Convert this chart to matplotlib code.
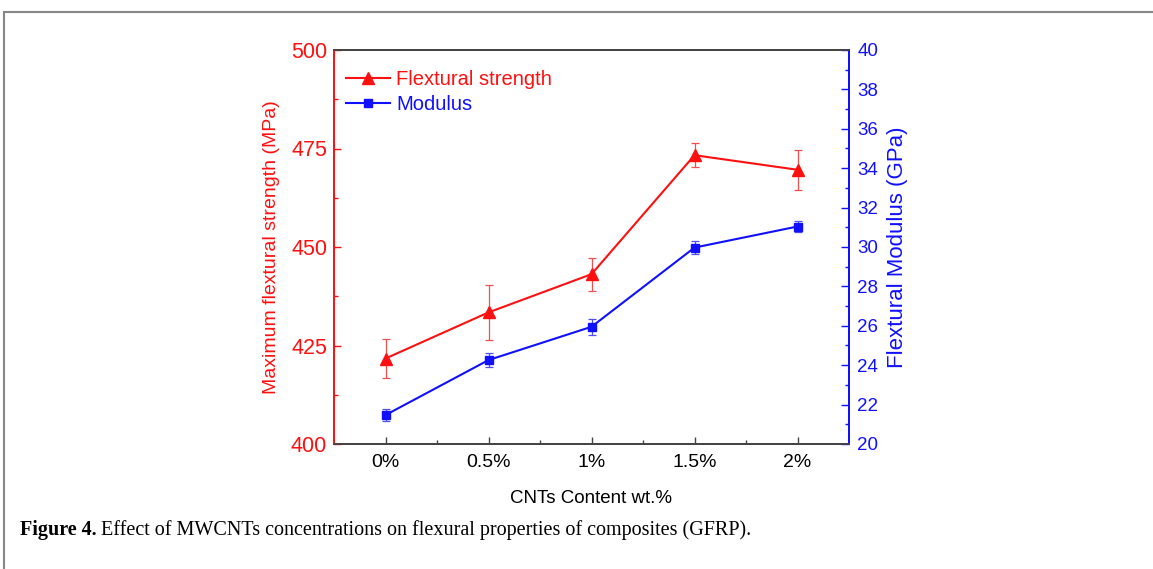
import matplotlib
matplotlib.use("Agg")
import matplotlib.pyplot as plt
from matplotlib.ticker import MultipleLocator, FixedLocator
from matplotlib.lines import Line2D

categories = ["0%", "0.5%", "1%", "1.5%", "2%"]
strength = [421.7, 433.4, 443.1, 473.3, 469.6]
strength_err = [5.0, 7.0, 4.2, 3.0, 5.1]
modulus = [21.47, 24.26, 25.95, 29.97, 31.04]
modulus_err = [0.29, 0.34, 0.41, 0.33, 0.27]

plt.rcParams['font.family'] = ['Liberation Sans', 'DejaVu Sans']

W, H = 1153, 569
fig = plt.figure(figsize=(W / 100, H / 100), dpi=100)
ax = fig.add_axes([334 / W, 1 - 444 / H, (849 - 334) / W, (444 - 50) / H])
ax2 = ax.twinx()

x = list(range(len(categories)))
red = '#ff1010'
blue = '#1010ff'

ax.errorbar(x, strength, yerr=strength_err, color=red, marker='^', markersize=8,
            linewidth=1.5, elinewidth=0.9, capsize=3, capthick=0.9, ecolor='#f05050', zorder=3)
ax2.errorbar(x, modulus, yerr=modulus_err, color=blue, marker='s', markersize=6,
             linewidth=1.5, elinewidth=0.9, capsize=3, capthick=0.9, ecolor='#5050f0', zorder=3)

ax.set_xlim(-0.5, 4.5)
ax.set_ylim(400, 500)
ax2.set_ylim(20, 40)

ax.set_xticks(x)
ax.set_xticklabels(categories)
ax.xaxis.set_minor_locator(FixedLocator([0.5, 1.5, 2.5, 3.5]))
ax.yaxis.set_major_locator(MultipleLocator(25))
ax.yaxis.set_minor_locator(MultipleLocator(12.5))
ax2.yaxis.set_major_locator(MultipleLocator(2))
ax2.yaxis.set_minor_locator(MultipleLocator(1))

ax.tick_params(axis='y', which='both', colors=red, labelsize=15.5, direction='in', pad=5)
ax.tick_params(axis='y', which='major', length=5, width=1)
ax.tick_params(axis='y', which='minor', length=3, width=1)
ax.tick_params(axis='x', which='major', length=5, width=1, color='#444444', labelsize=14,
               direction='in', pad=7)
ax.tick_params(axis='x', which='minor', length=3, width=1, color='#444444', direction='in')
ax2.tick_params(axis='y', which='both', colors=blue, labelsize=13.5, direction='in', pad=6)
ax2.tick_params(axis='y', which='major', length=6, width=1)
ax2.tick_params(axis='y', which='minor', length=3, width=1)

for a in (ax, ax2):
    a.spines['left'].set_color(red)
    a.spines['right'].set_color(blue)
    a.spines['top'].set_color('#444444')
    a.spines['bottom'].set_color('#444444')
    for s in a.spines.values():
        s.set_linewidth(1.3)

ax.set_ylabel("Maximum flextural strength (MPa)", color=red, fontsize=14, labelpad=8)
ax2.set_ylabel("Flextural Modulus (GPa)", color=blue, fontsize=16, labelpad=6)
ax.set_xlabel("CNTs Content wt.%", fontsize=13.5, labelpad=14)

handles = [Line2D([], [], color=red, marker='^', markersize=8, linewidth=1.5),
           Line2D([], [], color=blue, marker='s', markersize=6, linewidth=1.5)]
leg = ax.legend(handles, ["Flextural strength", "Modulus"], loc='upper left',
                frameon=False, fontsize=14.5, handlelength=2.2, handletextpad=0.3,
                labelspacing=0.3, borderaxespad=0.2, bbox_to_anchor=(0.0, 0.98))
leg.get_texts()[0].set_color(red)
leg.get_texts()[1].set_color(blue)

# frame lines of the figure panel
fig.add_artist(Line2D([4 / W, 1.0], [1 - 12 / H, 1 - 12 / H], color='#888888', linewidth=1.5,
                      transform=fig.transFigure))
fig.add_artist(Line2D([4 / W, 4 / W], [0.0, 1 - 12 / H], color='#888888', linewidth=1.5,
                      transform=fig.transFigure))

cap_y = 1 - 530 / H
t1 = fig.text(20 / W, cap_y, "Figure 4.", fontsize=14.5, fontweight='bold',
              family='Liberation Serif', va='center', ha='left')
fig.canvas.draw()
bb = t1.get_window_extent(renderer=fig.canvas.get_renderer())
fig.text((bb.x1 + 4) / W, cap_y,
         "Effect of MWCNTs concentrations on flexural properties of composites (GFRP).",
         fontsize=14.5, family='Liberation Serif', va='center', ha='left')

fig.savefig("out.png", dpi=100)
